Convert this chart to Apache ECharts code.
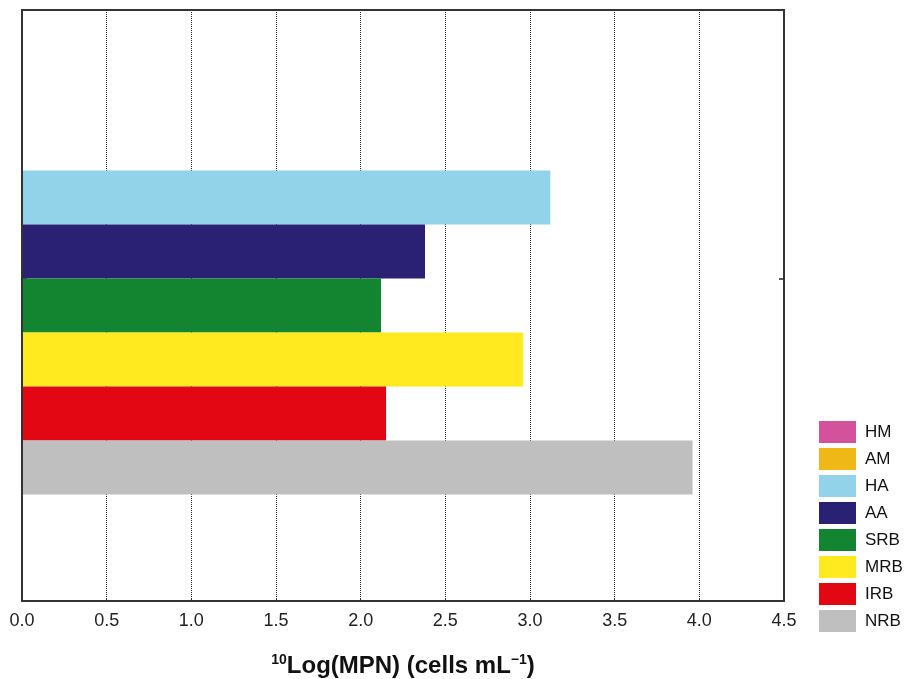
<!DOCTYPE html>
<html><head><meta charset="utf-8">
<script src="https://cdn.jsdelivr.net/npm/echarts@6/dist/echarts.min.js"></script>
<style>html,body{margin:0;padding:0;background:#fff}#c{width:906px;height:679px}</style>
</head><body><div id="c"></div>
<script>
const seriesNames = ['HM','AM','HA','AA','SRB','MRB','IRB','NRB'];
const seriesValues = [0, 0, 3.12, 2.38, 2.12, 2.96, 2.15, 3.96];
const seriesColors = ['#d4519b','#efb817','#92d3ea','#2b2174','#13842f','#feea1f','#e30613','#bfbfbf'];
const category = ['Sample'];
const xMin = 0, xMax = 4.5, xInterval = 0.5;

const chart = echarts.init(document.getElementById('c'), null, {renderer:'canvas'});
const font = 'Liberation Sans, Arial, sans-serif';
const series = seriesNames.map((n,i)=>({
  name:n, type:'bar', xAxisIndex:1, yAxisIndex:1,
  data:[seriesValues[i]], barWidth:54, barGap:'0%',
  itemStyle:{color:seriesColors[i]}, silent:true
}));
chart.setOption({
  animation:false,
  textStyle:{fontFamily:font},
  grid:[
    {left:22, right:122, top:10, bottom:78, show:true, borderColor:'#333', borderWidth:2, backgroundColor:'transparent', z:10, outerBoundsMode:'none', containLabel:false},
    {left:22, right:122, top:10, height:537, outerBoundsMode:'none', containLabel:false}
  ],
  legend:{
    orient:'vertical', left:814, top:416, itemWidth:37, itemHeight:22, itemGap:5,
    data:seriesNames, icon:'rect', selectedMode:false,
    textStyle:{fontSize:17, color:'#111', fontFamily:font, padding:[0,0,0,4]}
  },
  xAxis:[
    {gridIndex:0, type:'value', min:xMin, max:xMax, interval:xInterval,
     axisLine:{show:true, lineStyle:{color:'#333', width:2}},
     axisTick:{show:true, inside:true, length:3, lineStyle:{color:'#333'}},
     splitLine:{show:true, lineStyle:{color:'#222', type:[1,1], width:1}},
     axisLabel:{fontSize:18, color:'#222', margin:11, formatter:v=>v.toFixed(1)},
     name:'{s|10}Log(MPN) (cells mL{s|\u22121})', nameLocation:'middle', nameGap:52,
     nameTextStyle:{fontSize:24, fontWeight:'bold', color:'#111', lineHeight:27,
       rich:{s:{fontSize:14, fontWeight:'bold', color:'#111', verticalAlign:'top', lineHeight:27}}}
    },
    {gridIndex:1, type:'value', min:xMin, max:xMax, interval:xInterval, show:false}
  ],
  yAxis:[
    {gridIndex:0, type:'category', data:category, axisLine:{show:false}, axisTick:{show:false}, axisLabel:{show:false}},
    {gridIndex:1, type:'category', data:category, axisLine:{show:false},
     axisTick:{show:true, inside:true, alignWithLabel:true, length:5, lineStyle:{color:'#222', width:1.5}},
     axisLabel:{show:false}, splitLine:{show:false}},
    {gridIndex:1, type:'category', position:'right', data:category, axisLine:{show:false},
     axisTick:{show:true, inside:true, alignWithLabel:true, length:5, lineStyle:{color:'#222', width:1.5}},
     axisLabel:{show:false}, splitLine:{show:false}}
  ],
  series: series
});
</script></body></html>
